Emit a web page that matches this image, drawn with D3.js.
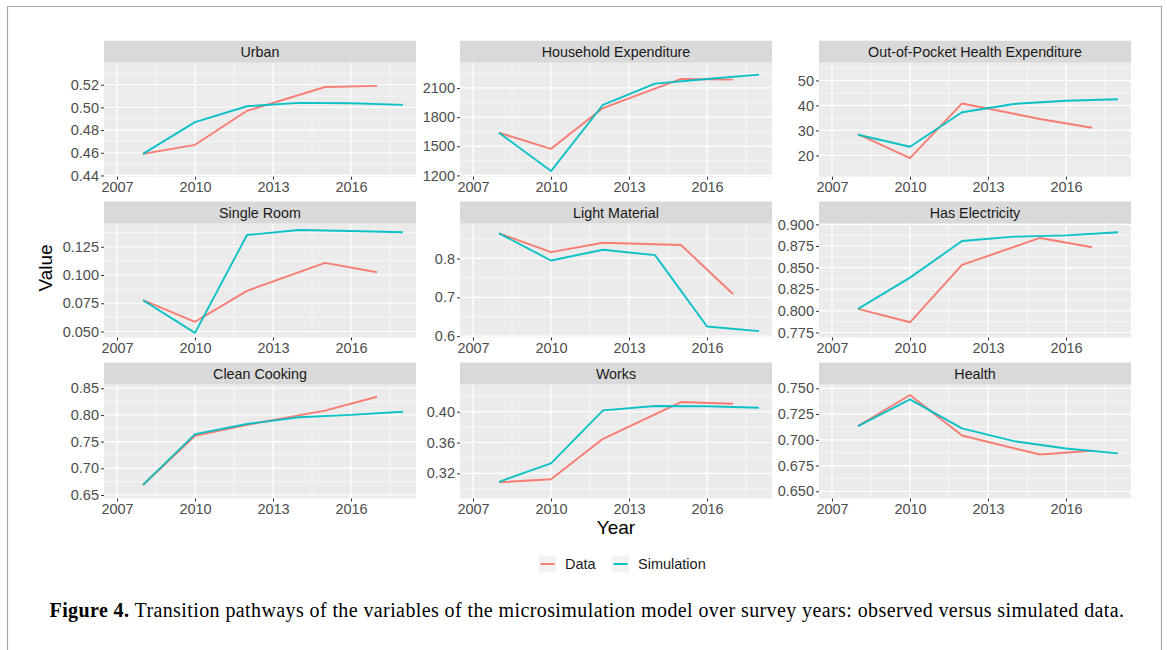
<!DOCTYPE html>
<html>
<head>
<meta charset="utf-8">
<script src="https://cdn.jsdelivr.net/npm/d3@7"></script>
<style>
  html, body { margin: 0; padding: 0; background: #fff; }
  svg { display: block; }
</style>
</head>
<body>
<svg id="chart" width="1167" height="650"></svg>
<script>
// ---------------- data ----------------
const dataYears = [2008, 2010, 2012, 2015, 2017];
const simYears  = [2008, 2010, 2012, 2014, 2016, 2018];
const xTickLabels = ["2007", "2010", "2013", "2016"];
const seriesNames = ["Data", "Simulation"];

const panelTitles = ["Urban", "Household Expenditure", "Out-of-Pocket Health Expenditure",
  "Single Room", "Light Material", "Has Electricity",
  "Clean Cooking", "Works", "Health"];

const urbanData = [0.459, 0.467, 0.497, 0.518, 0.519];
const urbanSim  = [0.459, 0.487, 0.501, 0.504, 0.5037, 0.5022];
const urbanTicks = ["0.44", "0.46", "0.48", "0.50", "0.52"];
const urbanRange = [0.4389, 0.5394];

const hheData = [1639, 1474, 1893, 2193, 2186];
const hheSim  = [1639, 1245, 1927, 2145, 2193, 2237];
const hheTicks = ["1200", "1500", "1800", "2100"];
const hheRange = [1187, 2360];

const oopData = [28.5, 18.9, 40.8, 34.6, 31.1];
const oopSim  = [28.3, 23.5, 37.3, 40.6, 41.9, 42.5];
const oopTicks = ["20", "30", "40", "50"];
const oopRange = [11.5, 57.1];

const roomData = [0.0777, 0.0586, 0.0860, 0.1107, 0.1024];
const roomSim  = [0.0777, 0.0488, 0.1354, 0.1398, 0.1389, 0.1378];
const roomTicks = ["0.050", "0.075", "0.100", "0.125"];
const roomRange = [0.0447, 0.1456];

const lightData = [0.8647, 0.8164, 0.8405, 0.8345, 0.7086];
const lightSim  = [0.8647, 0.7948, 0.8224, 0.8086, 0.6250, 0.6130];
const lightTicks = ["0.6", "0.7", "0.8"];
const lightRange = [0.5966, 0.8900];

const elecData = [0.8023, 0.7868, 0.8531, 0.8843, 0.8735];
const elecSim  = [0.8023, 0.8384, 0.8808, 0.8858, 0.8873, 0.8908];
const elecTicks = ["0.775", "0.800", "0.825", "0.850", "0.875", "0.900"];
const elecRange = [0.7692, 0.9010];

const cookData = [0.6688, 0.7610, 0.7815, 0.8080, 0.8340];
const cookSim  = [0.6688, 0.7640, 0.7830, 0.7956, 0.8000, 0.8060];
const cookTicks = ["0.65", "0.70", "0.75", "0.80", "0.85"];
const cookRange = [0.6434, 0.8570];

const worksData = [0.3083, 0.3122, 0.3648, 0.4125, 0.4104];
const worksSim  = [0.3090, 0.3330, 0.4017, 0.4074, 0.4070, 0.4052];
const worksTicks = ["0.32", "0.36", "0.40"];
const worksRange = [0.2873, 0.4353];

const healthData = [0.7133, 0.7435, 0.7042, 0.6857, 0.6893];
const healthSim  = [0.7133, 0.7392, 0.7111, 0.6987, 0.6916, 0.6868];
const healthTicks = ["0.650", "0.675", "0.700", "0.725", "0.750"];
const healthRange = [0.6430, 0.7537];

const xRange = [2006.5, 2018.5];

const panels = [
  {data: urbanData, sim: urbanSim, ticks: urbanTicks, range: urbanRange},
  {data: hheData, sim: hheSim, ticks: hheTicks, range: hheRange},
  {data: oopData, sim: oopSim, ticks: oopTicks, range: oopRange},
  {data: roomData, sim: roomSim, ticks: roomTicks, range: roomRange},
  {data: lightData, sim: lightSim, ticks: lightTicks, range: lightRange},
  {data: elecData, sim: elecSim, ticks: elecTicks, range: elecRange},
  {data: cookData, sim: cookSim, ticks: cookTicks, range: cookRange},
  {data: worksData, sim: worksSim, ticks: worksTicks, range: worksRange},
  {data: healthData, sim: healthSim, ticks: healthTicks, range: healthRange}
].map((p, i) => Object.assign(p, {title: panelTitles[i]}));

// ---------------- layout ----------------
const colX = [104, 460, 819];
const plotW = 312;
const stripTop = [40.7, 201.5, 362.5];
const stripH = 22;
const plotH = 114;
const colors = {Data: "#F8766D", Simulation: "#00BFC4"};
const FONT = "'Liberation Sans', Arial, Helvetica, sans-serif";

const svg = d3.select("#chart");
svg.append("rect").attr("width", 1167).attr("height", 650).attr("fill", "#fff");
// outer frame
svg.append("path")
  .attr("d", "M7.5,660 V6.5 H1161.5 V660")
  .attr("fill", "none").attr("stroke", "#a8a8a8").attr("stroke-width", 1.2);

const xMajor = xTickLabels.map(Number);
const xMinor = [];
for (let i = 0; i < xMajor.length; i++) {
  const m = xMajor[i] + 1.5;
  if (m > xRange[0] && m < xRange[1]) xMinor.push(m);
}

panels.forEach((p, i) => {
  const col = i % 3, row = Math.floor(i / 3);
  const x0 = colX[col];
  const top = stripTop[row] + stripH;
  const g = svg.append("g").attr("transform", `translate(${x0},${top})`);

  const x = d3.scaleLinear().domain(xRange).range([0, plotW]);
  const y = d3.scaleLinear().domain(p.range).range([plotH, 0]);

  // strip
  svg.append("rect").attr("x", x0).attr("y", stripTop[row]).attr("width", plotW).attr("height", stripH)
    .attr("fill", "#D9D9D9");
  svg.append("text").attr("x", x0 + plotW / 2).attr("y", stripTop[row] + stripH / 2 + 0.5)
    .attr("text-anchor", "middle").attr("dominant-baseline", "central")
    .attr("font-family", FONT).attr("font-size", 14.3).attr("fill", "#1A1A1A").text(p.title);

  // panel background
  g.append("rect").attr("width", plotW).attr("height", plotH).attr("fill", "#EBEBEB");

  const yMajor = p.ticks.map(Number);
  const yStep = yMajor[1] - yMajor[0];
  const yMinor = [];
  [yMajor[0] - yStep / 2].concat(yMajor.map(v => v + yStep / 2)).forEach(v => {
    if (v > p.range[0] && v < p.range[1]) yMinor.push(v);
  });

  // minor grid
  g.selectAll(".ymin").data(yMinor).enter().append("line")
    .attr("x1", 0).attr("x2", plotW).attr("y1", d => y(d)).attr("y2", d => y(d))
    .attr("stroke", "#fff").attr("stroke-width", 0.6);
  g.selectAll(".xmin").data(xMinor).enter().append("line")
    .attr("y1", 0).attr("y2", plotH).attr("x1", d => x(d)).attr("x2", d => x(d))
    .attr("stroke", "#fff").attr("stroke-width", 0.6);
  // major grid
  g.selectAll(".ymaj").data(yMajor).enter().append("line")
    .attr("x1", 0).attr("x2", plotW).attr("y1", d => y(d)).attr("y2", d => y(d))
    .attr("stroke", "#fff").attr("stroke-width", 1.2);
  g.selectAll(".xmaj").data(xMajor).enter().append("line")
    .attr("y1", 0).attr("y2", plotH).attr("x1", d => x(d)).attr("x2", d => x(d))
    .attr("stroke", "#fff").attr("stroke-width", 1.2);

  // axes
  const yAxis = d3.axisLeft(y).tickValues(yMajor).tickSize(3).tickPadding(2)
    .tickFormat((d, k) => p.ticks[k]);
  const ya = g.append("g").call(yAxis);
  const xAxis = d3.axisBottom(x).tickValues(xMajor).tickSize(3).tickPadding(2)
    .tickFormat((d, k) => xTickLabels[k]);
  const xa = g.append("g").attr("transform", `translate(0,${plotH})`).call(xAxis);
  [ya, xa].forEach(a => {
    a.select(".domain").remove();
    a.selectAll(".tick line").attr("stroke", "#333").attr("stroke-width", 1);
    a.selectAll(".tick text").attr("font-family", FONT).attr("font-size", 14.5)
      .attr("fill", "#4D4D4D");
  });

  // lines
  const line = d3.line().x(d => x(d[0])).y(d => y(d[1]));
  const series = [
    {name: "Data", pts: dataYears.map((yr, k) => [yr, p.data[k]])},
    {name: "Simulation", pts: simYears.map((yr, k) => [yr, p.sim[k]])}
  ];
  g.selectAll(".series").data(series).enter().append("path")
    .attr("d", d => line(d.pts)).attr("fill", "none")
    .attr("stroke", d => colors[d.name]).attr("stroke-width", 1.9)
    .attr("stroke-linejoin", "round").attr("stroke-opacity", 0.95);
});

// axis titles
svg.append("text").attr("x", 616).attr("y", 527).attr("text-anchor", "middle")
  .attr("dominant-baseline", "central").attr("font-family", FONT).attr("font-size", 19)
  .attr("fill", "#000").text("Year");
svg.append("text").attr("transform", "translate(45,268) rotate(-90)").attr("text-anchor", "middle")
  .attr("dominant-baseline", "central").attr("font-family", FONT).attr("font-size", 19)
  .attr("fill", "#000").text("Value");

// legend
const legendX = [539, 612];
const legend = svg.append("g");
seriesNames.forEach((s, k) => {
  const lx = legendX[k];
  legend.append("rect").attr("x", lx).attr("y", 555.5).attr("width", 17).attr("height", 17).attr("fill", "#F2F2F2");
  legend.append("line").attr("x1", lx + 1.5).attr("x2", lx + 15.5).attr("y1", 564).attr("y2", 564)
    .attr("stroke", colors[s]).attr("stroke-width", 1.9);
  legend.append("text").attr("x", lx + 26).attr("y", 564).attr("dominant-baseline", "central")
    .attr("font-family", FONT).attr("font-size", 14.5).attr("fill", "#1A1A1A").text(s);
});

// caption
const cap = svg.append("text").attr("x", 587).attr("y", 617).attr("text-anchor", "middle")
  .attr("font-family", "'Liberation Serif', 'Times New Roman', serif").attr("font-size", 20).attr("fill", "#000");
cap.append("tspan").attr("font-weight", "bold").text("Figure 4.");
cap.append("tspan").text(" Transition pathways of the variables of the microsimulation model over survey years: observed versus simulated data.");
// fit caption width to the reference span
const capTarget = 1075;
const capLen = cap.node().getComputedTextLength();
const nChars = cap.text().length;
cap.attr("letter-spacing", ((capTarget - capLen) / nChars).toFixed(3));
</script>
</body>
</html>
